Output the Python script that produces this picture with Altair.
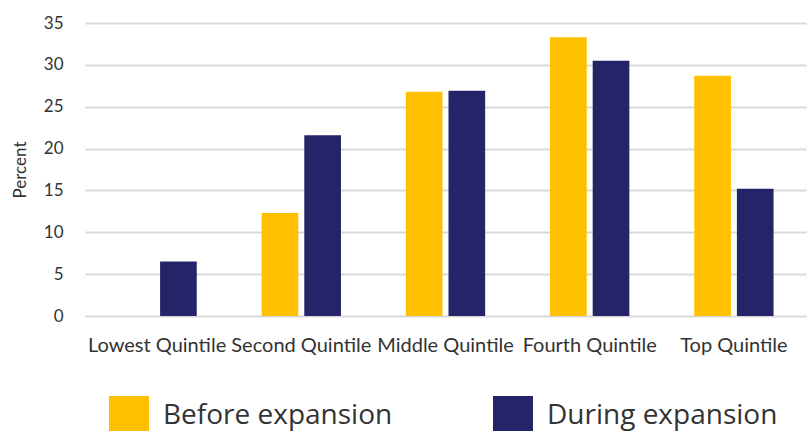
import altair as alt
import pandas as pd

categories = ["Lowest Quintile", "Second Quintile", "Middle Quintile", "Fourth Quintile", "Top Quintile"]
series = ["Before expansion", "During expansion"]
before = [0, 12.3, 26.8, 33.3, 28.7]
during = [6.5, 21.6, 26.9, 30.5, 15.2]
colors = ["#FFC000", "#262468"]
y_ticks = [0, 5, 10, 15, 20, 25, 30, 35]

rows = []
for c, b, d in zip(categories, before, during):
    rows.append({"cat": c, "series": series[0], "value": b})
    rows.append({"cat": c, "series": series[1], "value": d})
df = pd.DataFrame(rows)

chart = alt.Chart(df).mark_bar().encode(
    x=alt.X("cat:N", sort=categories, title=None,
            scale=alt.Scale(paddingInner=0.45, paddingOuter=0.225),
            axis=alt.Axis(labelAngle=0, domain=False, ticks=False, labelPadding=19,
                          labelFontSize=20, labelFont="Lato", labelColor="#333333")),
    xOffset=alt.XOffset("series:N", sort=series, scale=alt.Scale(paddingInner=0.14, paddingOuter=0)),
    y=alt.Y("value:Q", title="Percent",
            scale=alt.Scale(domain=[0, 35], nice=False),
            axis=alt.Axis(values=y_ticks, domain=False, ticks=False, labelPadding=22,
                          labelFontSize=17, labelFont="Lato", labelColor="#333333",
                          gridColor="#d9d9d9", gridWidth=2,
                          titleFontSize=17, titleFont="Lato", titleFontWeight="normal",
                          titleColor="#333333", titlePadding=14)),
    color=alt.Color("series:N", sort=series,
                    scale=alt.Scale(domain=series, range=colors),
                    legend=alt.Legend(orient="none", legendX=24, legendY=373,
                                      direction="horizontal", title=None,
                                      symbolType="square", symbolSize=1600,
                                      symbolStrokeWidth=0, symbolOpacity=1,
                                      labelFontSize=28, labelFont="Open Sans", labelColor="#333333",
                                      labelOffset=14, columnPadding=100, labelLimit=400)),
).properties(
    width=721, height=293,
    autosize=alt.AutoSizeParams(type="none"),
    padding={"left": 85, "top": 23, "right": 1, "bottom": 115},
).configure_view(stroke=None)

chart.save("out.html", embed_options={"renderer": "svg", "actions": False})
